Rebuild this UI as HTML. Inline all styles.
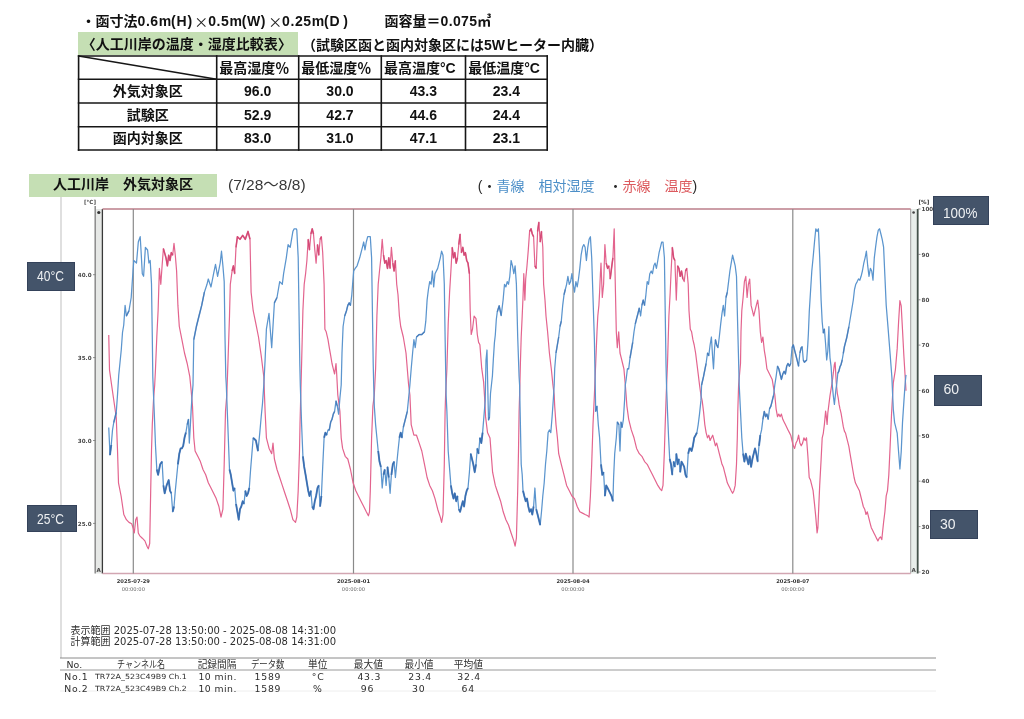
<!DOCTYPE html>
<html lang="ja"><head><meta charset="utf-8">
<title>人工川岸 温度・湿度比較</title>
<style>
html,body{margin:0;padding:0;background:#fff;}
body{width:1024px;height:719px;position:relative;overflow:hidden;font-family:"Liberation Sans","Noto Sans CJK JP",sans-serif;color:#111;}
.a{position:absolute;white-space:nowrap;line-height:1;}
.bd{font-weight:bold;}
.f14{font-size:14px;}
.green{position:absolute;background:#c5dfb4;}
.chart{position:absolute;left:0;top:0;}
.tk{font-family:"DejaVu Sans",sans-serif;font-size:5.6px;font-weight:bold;fill:#4a4a4a;}
.dt{font-family:"DejaVu Sans",sans-serif;font-size:5.2px;fill:#666;}
.b{font-weight:bold;fill:#333;}
.box{position:absolute;background:#44546a;color:#eef0f2;font-size:14px;line-height:1;box-shadow:inset 0 0 0 1px #34425a;}
.box span{position:absolute;white-space:nowrap;transform-origin:0 0;}
.xm{font-family:'Noto Sans CJK JP',sans-serif;font-weight:400;font-size:14px;color:#222;}
.sm{font-family:"DejaVu Sans","Noto Sans CJK JP",sans-serif;color:#2e2e2e;}
</style></head><body>
<div class="green" style="left:78.2px;top:32.1px;width:219.8px;height:22.5px;"></div>
<div class="green" style="left:28.6px;top:174px;width:188px;height:22.8px;"></div>
<svg class="chart" width="1024" height="719">
<line x1="78.6" y1="55.2" x2="78.6" y2="150.8" stroke="#161616" stroke-width="1.6"/>
<line x1="216.7" y1="55.2" x2="216.7" y2="150.8" stroke="#161616" stroke-width="1.6"/>
<line x1="298.7" y1="55.2" x2="298.7" y2="150.8" stroke="#161616" stroke-width="1.6"/>
<line x1="381.3" y1="55.2" x2="381.3" y2="150.8" stroke="#161616" stroke-width="1.6"/>
<line x1="465.5" y1="55.2" x2="465.5" y2="150.8" stroke="#161616" stroke-width="1.6"/>
<line x1="547.2" y1="55.2" x2="547.2" y2="150.8" stroke="#161616" stroke-width="1.6"/>
<line x1="77.8" y1="56.0" x2="548.0" y2="56.0" stroke="#161616" stroke-width="1.6"/>
<line x1="77.8" y1="79.2" x2="548.0" y2="79.2" stroke="#161616" stroke-width="1.6"/>
<line x1="77.8" y1="103.0" x2="548.0" y2="103.0" stroke="#161616" stroke-width="1.6"/>
<line x1="77.8" y1="126.8" x2="548.0" y2="126.8" stroke="#161616" stroke-width="1.6"/>
<line x1="77.8" y1="150.0" x2="548.0" y2="150.0" stroke="#161616" stroke-width="1.6"/>
<line x1="78.6" y1="56.0" x2="216.7" y2="79.2" stroke="#161616" stroke-width="1.4"/>
</svg>
<svg class="chart" width="1024" height="719">
<line x1="61" y1="197" x2="61" y2="658" stroke="#d2d2d2" stroke-width="1.4"/>
<rect x="95.5" y="209.0" width="7" height="364.5" fill="#e6e8e6"/>
<line x1="95.2" y1="206.0" x2="95.2" y2="573.5" stroke="#8a8a8a" stroke-width="1.5"/>
<line x1="102.4" y1="209.0" x2="102.4" y2="573.5" stroke="#3a3a3a" stroke-width="1.3"/>
<circle cx="98.8" cy="212.5" r="1.6" fill="#333"/>
<text x="96.5" y="571.5" class="tk">A</text>
<rect x="910.7" y="209.0" width="7.3" height="364.5" fill="#e8eeea"/>
<line x1="917.7" y1="209.0" x2="917.7" y2="573.5" stroke="#44524a" stroke-width="1.8"/>
<circle cx="913.6" cy="212.5" r="1.3" fill="#444"/>
<text x="911.5" y="571.5" class="tk">A</text>
<line x1="910.7" y1="209.0" x2="910.7" y2="573.5" stroke="#a0a0a0" stroke-width="1"/>
<line x1="102.5" y1="209.0" x2="910.7" y2="209.0" stroke="#bb7e8a" stroke-width="1.7"/>
<line x1="102.5" y1="573.5" x2="910.7" y2="573.5" stroke="#d2a6b2" stroke-width="1.4"/>
<line x1="133.3" y1="209.0" x2="133.3" y2="573.5" stroke="#8a8a8a" stroke-width="1.2"/>
<line x1="353.5" y1="209.0" x2="353.5" y2="573.5" stroke="#8a8a8a" stroke-width="1.2"/>
<line x1="573.0" y1="209.0" x2="573.0" y2="573.5" stroke="#8a8a8a" stroke-width="1.2"/>
<line x1="792.8" y1="209.0" x2="792.8" y2="573.5" stroke="#8a8a8a" stroke-width="1.2"/>
<line x1="93" y1="274.7" x2="95.5" y2="274.7" stroke="#777" stroke-width="0.8"/>
<text x="91.6" y="276.8" class="tk" text-anchor="end">40.0</text>
<line x1="93" y1="357.6" x2="95.5" y2="357.6" stroke="#777" stroke-width="0.8"/>
<text x="91.6" y="359.7" class="tk" text-anchor="end">35.0</text>
<line x1="93" y1="440.5" x2="95.5" y2="440.5" stroke="#777" stroke-width="0.8"/>
<text x="91.6" y="442.6" class="tk" text-anchor="end">30.0</text>
<line x1="93" y1="523.4" x2="95.5" y2="523.4" stroke="#777" stroke-width="0.8"/>
<text x="91.6" y="525.5" class="tk" text-anchor="end">25.0</text>
<text x="84" y="203.5" class="tk">[°C]</text>
<line x1="918" y1="209.0" x2="920.5" y2="209.0" stroke="#777" stroke-width="0.8"/>
<text x="921.5" y="211.2" class="tk">100</text>
<line x1="918" y1="254.4" x2="920.5" y2="254.4" stroke="#777" stroke-width="0.8"/>
<text x="921.5" y="256.6" class="tk">90</text>
<line x1="918" y1="299.8" x2="920.5" y2="299.8" stroke="#777" stroke-width="0.8"/>
<text x="921.5" y="301.9" class="tk">80</text>
<line x1="918" y1="345.1" x2="920.5" y2="345.1" stroke="#777" stroke-width="0.8"/>
<text x="921.5" y="347.3" class="tk">70</text>
<line x1="918" y1="390.5" x2="920.5" y2="390.5" stroke="#777" stroke-width="0.8"/>
<text x="921.5" y="392.7" class="tk">60</text>
<line x1="918" y1="435.9" x2="920.5" y2="435.9" stroke="#777" stroke-width="0.8"/>
<text x="921.5" y="438.1" class="tk">50</text>
<line x1="918" y1="481.2" x2="920.5" y2="481.2" stroke="#777" stroke-width="0.8"/>
<text x="921.5" y="483.4" class="tk">40</text>
<line x1="918" y1="526.6" x2="920.5" y2="526.6" stroke="#777" stroke-width="0.8"/>
<text x="921.5" y="528.8" class="tk">30</text>
<line x1="918" y1="572.0" x2="920.5" y2="572.0" stroke="#777" stroke-width="0.8"/>
<text x="921.5" y="574.2" class="tk">20</text>
<text x="918.5" y="204" class="tk b">[%]</text>
<text x="133.3" y="582.6" class="dt b" text-anchor="middle">2025-07-29</text>
<text x="133.3" y="590.6" class="dt" text-anchor="middle">00:00:00</text>
<text x="353.5" y="582.6" class="dt b" text-anchor="middle">2025-08-01</text>
<text x="353.5" y="590.6" class="dt" text-anchor="middle">00:00:00</text>
<text x="573.0" y="582.6" class="dt b" text-anchor="middle">2025-08-04</text>
<text x="573.0" y="590.6" class="dt" text-anchor="middle">00:00:00</text>
<text x="792.8" y="582.6" class="dt b" text-anchor="middle">2025-08-07</text>
<text x="792.8" y="590.6" class="dt" text-anchor="middle">00:00:00</text>
<polyline points="108.75,335 109.5,370 111.25,382.5 113.75,400 116.25,417.5 117.5,450 118.5,482.8 121.1,496 123.8,514.5 126.4,519.7 129,522.4 131.7,523.7 133,527.7 134.3,533 135.7,519.7 137,517.1 138.3,533 139.6,535.6 142.3,538.2 144.9,540.9 147,546.2 148.3,548.8 149.7,543.5 150.7,490.7 151.5,451 152.3,424.6 153.6,398.2 154.7,385 155.5,368.8 156.8,337 158.1,310.7 159.4,268.4 160.8,284.3 162.1,265.8 163.4,248.6 166,257.8 167.4,265.8 168.7,255.2 170,260.5 171.3,252.6 172.7,255.2 174,243.3 175.3,255.2 176.6,271 177.9,305.4 179.3,326.5 181.9,339.7 184.5,353 187.2,363.5 189.8,376.7 191.1,390 192.5,406 193.8,437.8 195.1,451 197.8,456.3 200.4,461.6 203,469.5 205.7,474.8 208.3,482.8 211,488 213.6,493.3 216.2,498.6 218.9,506.5 221,517.1 222.9,509.2 224.2,464.3 225.5,411.4 226.8,395 228.1,358.2 229.5,316 230.3,284.3 232.1,271 233.4,265.8 234.7,273.7 236,247.3 237.4,236.7 240,239.3 242.7,235.4 245.3,239.3 248,231.4 250,239.3 251.1,292.2 253.2,310.7 255.9,323.9 258.5,337 261.2,355.6 263.8,376.7 265.1,411.4 266.4,437.8 269.1,448.4 271.7,453.7 273,443.1 274.4,459 277,469.5 279.7,477.5 282.3,485.4 284.9,493.3 287.6,501.2 290.2,509.2 292.9,519.7 295.5,522.4 296.8,517.1 298.2,490.7 299.5,451 300,424.6 301.6,363.5 302.9,310.7 304.2,284.3 305.6,273.7 306.9,260.5 308.2,239.3 309.5,249.9 310.9,234 312.2,228.8 313.5,234 314.8,249.9 316.1,263.1 317.5,244.6 318.8,255.2 320.1,239.3 321.4,236.7 322.7,252.6 324.1,284.3 324.9,329.2 326.2,331.8 328,339.7 329.3,347.7 330.7,355.6 332,363.5 333.3,368.8 334.6,374 336,363.5 336.7,374 337.8,395 339.9,411.4 341.2,437.8 342.6,448.4 345.2,456.3 347.8,459 349.2,464.3 350.5,469.5 353.1,482.8 355.8,490.7 358.4,496 361,501.2 363.7,506.5 366.3,511.8 368.4,515.8 369.5,511.8 370.3,490.7 371.6,437.8 372.9,406.1 374.3,395 375.6,368.8 376.9,316 378.2,284.3 379.5,271 380.9,257.8 382.2,239.3 383.5,255.2 384.8,263.1 386.1,260.5 387.5,268.4 388.8,257.8 390.1,268.4 391.4,247.3 392.8,263.1 394.1,271 395.4,260.5 396.7,284.3 398,294.8 399.4,316 400.7,326.5 403.3,337 406,353 408.6,384.7 409.9,395 411.2,424.6 413.9,435.2 416.5,435.2 419.2,443.1 421.8,451 424.5,464.3 427.1,477.5 429.7,485.4 432.4,490.7 435,498.6 437.7,509.2 440.3,517.1 441.6,522.4 443,514.5 444.3,464.3 445.1,411.4 445.6,395 446.9,368.8 448.2,323.9 449.6,292.2 450.9,271 452.2,247.3 453.5,257.8 454.8,252.6 456.2,263.1 457.5,257.8 458.8,244.6 460.1,234 461.4,252.6 462.8,247.3 464.1,255.2 465.4,252.6 466.7,260.5 468,263.1 469.4,273.7 470.2,310.7 471.2,334.5 472.5,329.2 474.1,316 476,318.6 477.3,334.5 478.6,342.4 479.9,344.8 481.7,368.2 483.6,381.8 484.6,397.4 485.6,416.9 487.5,432.5 490,438 492.6,472.2 495.3,485.4 497.9,493.3 500.6,501.2 503.2,511.8 505.9,519.7 508.5,525 511.1,533 513.8,540.9 515.1,546.2 516.4,538.2 517.7,490.7 518.5,451 519.1,411.4 519.6,395 520.4,363.5 521.2,337 522.2,316 523,297.5 523.8,273.7 524.9,300.1 525.7,279 527,265.8 528.3,249.9 529.6,231.4 531,228.8 532.3,234 533.6,236.7 534.9,265.8 536.2,268.4 537.6,231.4 538.9,222.2 540.2,242 541.5,231.4 542.8,247.3 543.6,284.3 545,300.1 546,316 547.6,331.8 549.4,353 551.3,368.8 552.9,384.7 554.2,395 554.7,406.1 556,424.6 557.4,437.8 558.7,453.7 561.3,464.3 564,474.8 566.6,485.4 569.3,490.7 571.9,496 574.5,498.6 577.2,506.5 579.8,511.8 582.5,513.1 585.1,514.5 587.8,515.8 589.1,517.1 590.4,496 591.7,464.3 593,424.6 594.4,395 595.7,363.5 597,331.8 597.8,316 598.9,305.4 599.6,292.2 600.4,273.7 601,263.1 602.3,297.5 603.6,284.3 604.9,244.6 606.2,263.1 607.6,268.4 608.9,265.8 610.2,279 611.5,268.4 612.9,257.8 614.2,228.8 615,271 616.3,331.8 617.3,347.7 618.7,331.8 620,353 621.3,358.2 622.6,363.5 623.9,368.8 625.3,384.7 626.1,395 626.9,406.1 628.7,419.3 631.3,429.9 634,437.8 636.6,448.4 639.3,453.7 641.9,456.3 644.6,461.6 647.2,464.3 649.8,469.5 652.5,474.8 655.1,480.1 657.8,485.4 660.4,489.4 661.7,490.7 663,485.4 664.4,451 665.2,424.6 666.2,395 667.5,363.5 668.9,316 670.2,292.2 671,273.7 672.3,247.3 673.6,257.8 674.9,260.5 676.3,300.1 677.6,265.8 678.9,268.4 680.2,276.3 681.5,271 682.9,279 684.2,281.6 685.5,271 686.8,268.4 688.2,284.3 689,310.7 690.3,329.2 691.6,331.8 692.9,339.7 694.2,345 695.6,353 696.9,363.5 698.2,374 699.5,384.7 700.9,395 702.2,400.9 703.5,411.4 704.8,424.6 706.1,432.6 707.5,437.8 708.8,435.2 710.1,440.5 711.4,437.8 712.7,435.2 714.1,440.5 715.4,445.8 716.7,443.1 718,448.4 719.3,453.7 720.7,459 722,464.3 723.3,466.9 724.6,472.2 726,477.5 727.3,482.8 728.6,485.4 729.9,488 731.2,490.7 732.6,493.3 733.9,490.7 735.2,485.4 736.5,464.3 737.3,437.8 737.8,411.4 738.6,385 740.5,363.5 741,331.8 741.8,310.7 743.1,297.5 744.4,281.6 745.8,276.3 747.1,297.5 748.4,284.3 749.7,279 751.1,305.4 752.4,310.7 753.7,316 755,310.7 756.3,305.4 757.7,300.1 759,310.7 760.3,331.8 761.6,342.4 762.9,337 764.3,350.3 765.6,358.2 766.9,368.8 769.5,374 772.2,379.4 773.5,387.3 774.8,395 776.1,408.8 777.5,416.7 778.8,414.1 780.1,416.7 781.4,414.1 782.8,419.3 784.1,422 785.4,424.6 786.7,427.3 788,429.9 789.4,432.6 790.7,435.2 792,440.5 793.3,445.8 794.6,448.4 796,443.1 797.3,440.5 798.6,435.2 799.9,443.1 801.2,445.8 802.6,443.1 803.9,437.8 805.2,440.5 806.5,437.8 807.9,456.3 809.2,477.5 810.5,480.1 811.8,485.4 813.1,490.7 814.5,503.9 815.8,517.1 817.1,533 817.9,527.7 818.9,503.9 819.7,485.4 821.1,459.8 822.2,437.8 823.3,433.3 824.4,424.4 825.6,411.1 826.2,415.6 827.1,424.4 827.8,413.3 828.9,404.4 830,395.6 831.1,388.9 832.2,382.2 833.3,373.3 834.4,364.4 835.1,362.2 835.6,371.1 836.2,382.2 837.3,393.3 838.2,397.8 839.1,404.4 840,408.9 841.1,413.3 842.2,420 843.3,426.7 844.4,431.1 845.6,433.3 846.7,437.8 847.8,442.2 848.9,446.7 850,453.3 851.1,459.8 852.8,470 854.1,477.5 855.4,482.8 856.7,485.4 858,488 859.4,490.7 860.7,496 862,501.2 863.3,506.5 864.7,509.2 866,514.5 867.3,511.8 868.6,517.1 869.9,522.4 871.3,527.7 872.6,530.3 873.9,533 875.2,535.6 876.5,538.2 877.9,540.9 879.2,538.2 880.5,536.9 881.8,539.6 882.2,535.5 883.6,522.3 884.9,511.7 886.2,495.9 887.5,490.6 888.8,475 890.2,445 891.5,415 893.3,382.8 895.4,369.6 897.2,348.4 898.6,321.8 899.9,300.6 901.2,305.9 902.5,329.8 903.9,356.3 905.2,377.5 906,390.8" fill="none" stroke="#e3648e" stroke-width="1.2" stroke-linejoin="round"/>
<polyline points="163.4,248.6 166,257.8 167.4,265.8 168.7,255.2 170,260.5 171.3,252.6 172.7,255.2" fill="none" stroke="#cf3f6c" stroke-width="1.6" stroke-linejoin="round" stroke-opacity="0.75"/>
<polyline points="232.1,271 233.4,265.8 234.7,273.7" fill="none" stroke="#cf3f6c" stroke-width="1.6" stroke-linejoin="round" stroke-opacity="0.75"/>
<polyline points="236,247.3 237.4,236.7 240,239.3 242.7,235.4 245.3,239.3 248,231.4 250,239.3" fill="none" stroke="#cf3f6c" stroke-width="1.6" stroke-linejoin="round" stroke-opacity="0.75"/>
<polyline points="308.2,239.3 309.5,249.9" fill="none" stroke="#cf3f6c" stroke-width="1.6" stroke-linejoin="round" stroke-opacity="0.75"/>
<polyline points="310.9,234 312.2,228.8 313.5,234" fill="none" stroke="#cf3f6c" stroke-width="1.6" stroke-linejoin="round" stroke-opacity="0.75"/>
<polyline points="317.5,244.6 318.8,255.2" fill="none" stroke="#cf3f6c" stroke-width="1.6" stroke-linejoin="round" stroke-opacity="0.75"/>
<polyline points="320.1,239.3 321.4,236.7" fill="none" stroke="#cf3f6c" stroke-width="1.6" stroke-linejoin="round" stroke-opacity="0.75"/>
<polyline points="383.5,255.2 384.8,263.1 386.1,260.5 387.5,268.4 388.8,257.8 390.1,268.4" fill="none" stroke="#cf3f6c" stroke-width="1.6" stroke-linejoin="round" stroke-opacity="0.75"/>
<polyline points="392.8,263.1 394.1,271 395.4,260.5" fill="none" stroke="#cf3f6c" stroke-width="1.6" stroke-linejoin="round" stroke-opacity="0.75"/>
<polyline points="452.2,247.3 453.5,257.8 454.8,252.6 456.2,263.1 457.5,257.8" fill="none" stroke="#cf3f6c" stroke-width="1.6" stroke-linejoin="round" stroke-opacity="0.75"/>
<polyline points="458.8,244.6 460.1,234" fill="none" stroke="#cf3f6c" stroke-width="1.6" stroke-linejoin="round" stroke-opacity="0.75"/>
<polyline points="461.4,252.6 462.8,247.3 464.1,255.2 465.4,252.6 466.7,260.5 468,263.1 469.4,273.7" fill="none" stroke="#cf3f6c" stroke-width="1.6" stroke-linejoin="round" stroke-opacity="0.75"/>
<polyline points="529.6,231.4 531,228.8 532.3,234 533.6,236.7" fill="none" stroke="#cf3f6c" stroke-width="1.6" stroke-linejoin="round" stroke-opacity="0.75"/>
<polyline points="534.9,265.8 536.2,268.4" fill="none" stroke="#cf3f6c" stroke-width="1.6" stroke-linejoin="round" stroke-opacity="0.75"/>
<polyline points="537.6,231.4 538.9,222.2" fill="none" stroke="#cf3f6c" stroke-width="1.6" stroke-linejoin="round" stroke-opacity="0.75"/>
<polyline points="540.2,242 541.5,231.4" fill="none" stroke="#cf3f6c" stroke-width="1.6" stroke-linejoin="round" stroke-opacity="0.75"/>
<polyline points="606.2,263.1 607.6,268.4 608.9,265.8" fill="none" stroke="#cf3f6c" stroke-width="1.6" stroke-linejoin="round" stroke-opacity="0.75"/>
<polyline points="610.2,279 611.5,268.4 612.9,257.8" fill="none" stroke="#cf3f6c" stroke-width="1.6" stroke-linejoin="round" stroke-opacity="0.75"/>
<polyline points="672.3,247.3 673.6,257.8 674.9,260.5" fill="none" stroke="#cf3f6c" stroke-width="1.6" stroke-linejoin="round" stroke-opacity="0.75"/>
<polyline points="677.6,265.8 678.9,268.4 680.2,276.3 681.5,271 682.9,279" fill="none" stroke="#cf3f6c" stroke-width="1.6" stroke-linejoin="round" stroke-opacity="0.75"/>
<polyline points="685.5,271 686.8,268.4" fill="none" stroke="#cf3f6c" stroke-width="1.6" stroke-linejoin="round" stroke-opacity="0.75"/>
<polyline points="108.75,427.5 110,455 111.25,445 112.5,430 113.75,422.5 116.25,412.5 117.5,395 118.75,375 120,362.5 121.25,350 122.5,332.5 123.75,325 125.1,305.4 126.4,316 129,310.7 131.2,297.5 133,271 133.8,260.5 136.5,263 138.3,242 140.2,236.7 141,250 142.3,273.7 143.6,276.3 145.4,247.3 147.6,250 148.9,263 150.2,260.5 151.5,284 152.3,337 152.8,376.7 154.2,411.4 155.5,445.8 156.8,469.5 158.1,474.8 160.2,464.3 162.1,461.6 163.4,485.4 164.7,493.3 166.6,485.4 168.7,480.1 170,490.7 171.3,493.3 172.7,511.8 174,506.5 175.3,490.7 176.6,477.5 177.9,464.3 179.3,453.7 180.6,448.4 181.9,448.4 183.2,445.8 184.5,437.8 185.9,432.6 187.2,424.6 188.5,419.3 189.3,443.1 190.4,424.6 191.1,411.4 191.9,398.2 193,385 193.8,339.7 196.4,326.5 199,316 201.7,305.4 204.4,292.2 207,284.3 208.3,279 211,287 213.6,273.7 215.5,264.4 217.6,276.3 220.2,263 221.5,251.2 222.9,265.8 224.2,281.6 225,337 225.8,376.7 226.3,385 227.3,411.4 229.5,469.5 230.8,474.8 232.1,482.8 233.4,490.7 234.7,488 236,503.9 237.4,511.8 238.7,519.7 240,509.2 241.3,506.5 242.7,501.2 244,503.9 245.3,490.7 246.6,496 248,493.3 249.3,488 250.6,469.5 251.9,453.7 253.2,437.8 255.9,440.5 258,451 259.8,432.6 261.2,416.7 262.5,403.5 263.8,385 265.1,360 266.4,329.2 269,313.3 271.7,347.7 274.4,302.8 277,297.5 279.7,281.6 282.3,284.3 283.6,273.7 286.3,257.8 288.1,244.6 290.2,247.3 292.9,231.4 294.2,228.8 296.3,228.8 296.8,230 298.2,257.8 299,310.7 299.8,363.5 300.3,385 301.6,424.6 302.9,456.3 304.2,466.9 305.6,474.8 306.9,482.8 308.2,490.7 309.5,496 310.9,490.7 312.2,506.5 313.5,509.2 314.8,501.2 316.1,496 317.5,488 318.8,485.4 320.1,506.5 321.4,496 322.7,466.9 324.1,437.8 325.4,432.6 326.7,435.2 328,429.9 329.3,429.9 330.7,422 332,419.3 333.3,414.1 334.6,411.4 336,400.9 337.3,406.1 338.6,414.1 339.9,398.2 341.2,385 342,353 343.1,326.5 344.7,316 346.5,310.7 347.8,305.4 349.2,302.8 350.5,305.4 351.8,294.8 352.6,284.3 353.7,271 355.2,268.4 357.1,265.8 359.7,257.8 362.4,247.3 363.7,242 365,249.9 366.3,242 367.7,236.7 370.3,236.7 371.6,257.8 372.4,310.7 373.2,363.5 373.7,385 374.3,406.1 375.6,424.6 376.9,437.8 378.2,451 379.5,461.6 380.9,466.9 382.2,488 383.5,474.8 384.8,469.5 386.1,485.4 387.5,466.9 388.8,477.5 390.1,493.3 391.4,474.8 392.8,464.3 394.1,461.6 395.4,477.5 396.7,464.3 398,451 399.4,437.8 400.7,432.6 402,437.8 403.3,427.3 406,416.7 407.3,411.4 408.6,398.2 409.9,384.7 411.2,368.8 412.6,353 413.9,339.7 415.2,347.7 416.5,337 419.2,334.5 421.8,334.5 424.5,331.8 425.8,321.2 427.1,300.1 428.4,289.5 429.7,281.6 431.1,284.3 432.4,271 433.7,286.9 435,273.7 437.7,268.4 439,263.1 440.3,257.8 441.6,251.2 443,255.2 444.3,284.3 445.1,337 446.1,395 446.9,411.4 448.2,451 450.9,485.4 452.2,493.3 453.5,498.6 454.8,493.3 456.2,501.2 457.5,496 458.8,509.2 460.1,511.8 461.4,506.5 462.8,501.2 464.1,506.5 465.4,496 466.7,490.7 468,488 469.4,472.2 470.7,453.7 472,459 473.3,464.3 474.7,472.2 476,464.3 477.3,448.4 478.6,453.7 479.9,437.8 481.3,443.1 482.6,432.6 483.9,416.7 485.2,400.9 486,360 487,350 487.5,375 488.5,420 489.5,417 490.5,393.5 492.4,376 493.4,358.4 494.4,342.9 495.3,335 496.3,319.5 497.3,311.7 499.2,305.8 501.2,315.6 503.1,300 504.5,284.3 505.9,286.9 507.2,281.6 508.5,284.3 509.8,276.3 511.1,260.5 512.5,265.8 513.8,273.7 515.1,265.8 516.4,284.3 517.7,337 519.1,376.7 519.6,385 520.4,424.6 521.2,464.3 522.2,474.8 523,490.7 524.3,496 525.7,501.2 527,498.6 528.3,506.5 529.6,511.8 531,509.2 532.3,514.5 533.6,506.5 534.9,488 536.2,509.2 537.6,514.5 538.9,519.7 540.2,525 541.5,511.8 542.8,496 544.2,482.8 545.5,464.3 546.8,451 548.1,432.6 549.4,429.9 550.8,432.6 552.1,416.7 553.4,398.2 554.2,385 554.7,368.8 556,353 558.7,337 560,326.5 561.3,321.2 562.7,305.4 564,294.8 565.3,289.5 566.6,284.3 567.9,276.3 569.3,284.3 570.6,281.6 571.9,273.7 573.2,284.3 574.5,292.2 575.9,281.6 577.2,286.9 578.5,279 579.8,268.4 581.1,255.2 582.5,247.3 583.8,244.6 585.1,247.3 586.4,260.5 587.8,247.3 589.1,239.3 590.4,236.7 591.7,257.8 593,297.5 594.4,340 595.2,385 595.7,411.4 597,406.1 598.3,424.6 599.6,437.8 601,464.3 602.3,474.8 603.6,472.2 604.9,496 606.2,485.4 607.6,488 608.9,490.7 610.2,493.3 611.5,496 612.9,501.2 613.6,477.5 614.7,453.7 616.3,437.8 617.3,422 618.9,424.6 620,451 621,422 622.1,427.3 623.4,419.3 624.7,398.2 625.3,385 626.1,380 627.4,368.8 628.7,368.8 630,358.2 632.7,342.4 634,331.8 635.3,323.9 636.6,318.6 638,313.3 639.3,308 640.6,316 641.9,305.4 643.2,300.1 644.6,305.4 645.9,294.8 647.2,281.6 648.5,284.3 649.8,273.7 651.2,271 652.5,273.7 653.8,265.8 655.1,263.1 656.4,268.4 657.8,260.5 659.1,252.6 660.4,247.3 661.7,242 663,242 664.4,257.8 665.2,310.7 666,363.5 666.5,385 667.5,411.4 668.6,437.8 669.7,459 671,464.3 672.3,474.8 673.6,461.6 674.9,466.9 676.3,453.7 677.6,464.3 678.9,459 680.2,472.2 681.5,461.6 682.9,464.3 684.2,466.9 685.5,474.8 686.8,477.5 688.2,453.7 689.5,448.4 690.3,448.4 691.6,451 692.9,445.8 694.2,437.8 695.6,435.2 696.9,432.6 698.2,424.6 699.5,414.1 700.9,400.9 701.6,385 703.5,376.7 706.1,363.5 707.5,353 708.8,355.6 710.1,345 711.4,337 712.7,358.2 713.5,368.8 714.6,347.7 715.4,339.7 716.7,345 718,347.7 719.3,337 720.7,323.9 722,313.3 723.3,305.4 724.6,316 726,297.5 727.3,292.2 728.6,281.6 729.9,271 731.2,263.1 732.6,255.2 733.9,260.5 735.2,265.8 736.5,276.3 737.3,310.7 738.4,353 739.2,385 740.5,411.4 741.8,437.8 743.1,453.7 744.4,461.6 745.8,453.7 747.1,459 748.4,464.3 749.7,456.3 751.1,466.9 752.4,459 753.7,453.7 755,448.4 756.3,453.7 757.7,461.6 759,445.8 760.3,435.2 761.6,429.9 762.9,419.3 764.3,411.4 765.6,416.7 766.9,414.1 768.2,419.3 769.5,408.8 770.9,406.1 772.2,400.9 773.5,395.6 774.8,385 776.1,376.7 777.5,366.2 778.8,368.8 780.1,374 781.4,379.4 782.8,374 784.1,371.4 785.4,374 786.7,366.2 788,363.5 789.4,366.2 790.7,363.5 792,347.7 793.3,345 794.6,350.3 796,355.6 797.3,360.9 798.6,366.2 799.9,353 801.2,347.7 802.2,346.7 803.3,360 804.4,362.2 806.7,360 807.8,344.4 808.4,333.3 809.3,311 810,300 811.8,271 813.1,257.8 814.5,242 815.8,228.8 817.1,231.4 818.4,228.8 819.7,257.8 821.1,300 822.2,322 823.3,333 824.4,329 825.6,344 826.7,360 827.8,351 828.9,326.7 829.3,344 830,357.8 831.1,366.7 832.2,384.4 833.3,395.6 834.4,404.4 835.1,397.8 836,388.9 836.7,384.4 837.8,373.3 838.9,371.1 840,366.7 841.1,364.4 842.2,360 843.3,353.3 844.4,346.7 846.7,337.8 848.9,326.7 850,320 851.1,313.3 853.3,300 854.5,289.5 855.8,284.2 857.2,281.6 858.5,278.9 859.8,280.2 861.1,276.3 862.4,271 863.8,263.1 865.1,257.8 866.4,251.2 867.7,265.7 869,276.3 870.4,268.4 871.7,271 873,280.2 874.3,257.8 875.6,247.2 877,236.7 878.3,230.1 879.6,228.8 880.9,234 882.2,239.3 883.6,247.2 884.9,276.3 886.2,305.3 888,327.1 890.1,353.7 891.9,377.5 892.7,396.1 893.3,409.4 894.6,422.6 897.2,433.2 898.6,452 899.9,469 901.2,452 902.5,422.6 903.9,401.4 905.2,382.8 906,374.9" fill="none" stroke="#5b95ce" stroke-width="1.25" stroke-linejoin="round"/>
<polyline points="110,455 111.25,445" fill="none" stroke="#2f64aa" stroke-width="1.9" stroke-linejoin="round" stroke-opacity="0.8"/>
<polyline points="156.8,469.5 158.1,474.8 160.2,464.3 162.1,461.6" fill="none" stroke="#2f64aa" stroke-width="1.9" stroke-linejoin="round" stroke-opacity="0.8"/>
<polyline points="163.4,485.4 164.7,493.3 166.6,485.4 168.7,480.1 170,490.7 171.3,493.3" fill="none" stroke="#2f64aa" stroke-width="1.9" stroke-linejoin="round" stroke-opacity="0.8"/>
<polyline points="172.7,511.8 174,506.5" fill="none" stroke="#2f64aa" stroke-width="1.9" stroke-linejoin="round" stroke-opacity="0.8"/>
<polyline points="177.9,464.3 179.3,453.7 180.6,448.4 181.9,448.4 183.2,445.8 184.5,437.8 185.9,432.6" fill="none" stroke="#2f64aa" stroke-width="1.9" stroke-linejoin="round" stroke-opacity="0.8"/>
<polyline points="229.5,469.5 230.8,474.8 232.1,482.8 233.4,490.7 234.7,488" fill="none" stroke="#2f64aa" stroke-width="1.9" stroke-linejoin="round" stroke-opacity="0.8"/>
<polyline points="236,503.9 237.4,511.8 238.7,519.7 240,509.2 241.3,506.5 242.7,501.2 244,503.9" fill="none" stroke="#2f64aa" stroke-width="1.9" stroke-linejoin="round" stroke-opacity="0.8"/>
<polyline points="245.3,490.7 246.6,496 248,493.3 249.3,488" fill="none" stroke="#2f64aa" stroke-width="1.9" stroke-linejoin="round" stroke-opacity="0.8"/>
<polyline points="253.2,437.8 255.9,440.5 258,451" fill="none" stroke="#2f64aa" stroke-width="1.9" stroke-linejoin="round" stroke-opacity="0.8"/>
<polyline points="302.9,456.3 304.2,466.9 305.6,474.8 306.9,482.8 308.2,490.7 309.5,496 310.9,490.7" fill="none" stroke="#2f64aa" stroke-width="1.9" stroke-linejoin="round" stroke-opacity="0.8"/>
<polyline points="312.2,506.5 313.5,509.2 314.8,501.2 316.1,496 317.5,488 318.8,485.4" fill="none" stroke="#2f64aa" stroke-width="1.9" stroke-linejoin="round" stroke-opacity="0.8"/>
<polyline points="320.1,506.5 321.4,496" fill="none" stroke="#2f64aa" stroke-width="1.9" stroke-linejoin="round" stroke-opacity="0.8"/>
<polyline points="324.1,437.8 325.4,432.6 326.7,435.2" fill="none" stroke="#2f64aa" stroke-width="1.9" stroke-linejoin="round" stroke-opacity="0.8"/>
<polyline points="378.2,451 379.5,461.6 380.9,466.9" fill="none" stroke="#2f64aa" stroke-width="1.9" stroke-linejoin="round" stroke-opacity="0.8"/>
<polyline points="383.5,474.8 384.8,469.5" fill="none" stroke="#2f64aa" stroke-width="1.9" stroke-linejoin="round" stroke-opacity="0.8"/>
<polyline points="387.5,466.9 388.8,477.5" fill="none" stroke="#2f64aa" stroke-width="1.9" stroke-linejoin="round" stroke-opacity="0.8"/>
<polyline points="391.4,474.8 392.8,464.3 394.1,461.6" fill="none" stroke="#2f64aa" stroke-width="1.9" stroke-linejoin="round" stroke-opacity="0.8"/>
<polyline points="399.4,437.8 400.7,432.6 402,437.8" fill="none" stroke="#2f64aa" stroke-width="1.9" stroke-linejoin="round" stroke-opacity="0.8"/>
<polyline points="450.9,485.4 452.2,493.3 453.5,498.6 454.8,493.3 456.2,501.2 457.5,496" fill="none" stroke="#2f64aa" stroke-width="1.9" stroke-linejoin="round" stroke-opacity="0.8"/>
<polyline points="458.8,509.2 460.1,511.8 461.4,506.5 462.8,501.2 464.1,506.5 465.4,496 466.7,490.7 468,488" fill="none" stroke="#2f64aa" stroke-width="1.9" stroke-linejoin="round" stroke-opacity="0.8"/>
<polyline points="470.7,453.7 472,459 473.3,464.3 474.7,472.2 476,464.3" fill="none" stroke="#2f64aa" stroke-width="1.9" stroke-linejoin="round" stroke-opacity="0.8"/>
<polyline points="477.3,448.4 478.6,453.7" fill="none" stroke="#2f64aa" stroke-width="1.9" stroke-linejoin="round" stroke-opacity="0.8"/>
<polyline points="479.9,437.8 481.3,443.1 482.6,432.6" fill="none" stroke="#2f64aa" stroke-width="1.9" stroke-linejoin="round" stroke-opacity="0.8"/>
<polyline points="523,490.7 524.3,496 525.7,501.2 527,498.6 528.3,506.5 529.6,511.8 531,509.2 532.3,514.5 533.6,506.5" fill="none" stroke="#2f64aa" stroke-width="1.9" stroke-linejoin="round" stroke-opacity="0.8"/>
<polyline points="536.2,509.2 537.6,514.5 538.9,519.7 540.2,525" fill="none" stroke="#2f64aa" stroke-width="1.9" stroke-linejoin="round" stroke-opacity="0.8"/>
<polyline points="601,464.3 602.3,474.8 603.6,472.2" fill="none" stroke="#2f64aa" stroke-width="1.9" stroke-linejoin="round" stroke-opacity="0.8"/>
<polyline points="604.9,496 606.2,485.4 607.6,488 608.9,490.7 610.2,493.3 611.5,496 612.9,501.2" fill="none" stroke="#2f64aa" stroke-width="1.9" stroke-linejoin="round" stroke-opacity="0.8"/>
<polyline points="669.7,459 671,464.3 672.3,474.8" fill="none" stroke="#2f64aa" stroke-width="1.9" stroke-linejoin="round" stroke-opacity="0.8"/>
<polyline points="673.6,461.6 674.9,466.9" fill="none" stroke="#2f64aa" stroke-width="1.9" stroke-linejoin="round" stroke-opacity="0.8"/>
<polyline points="676.3,453.7 677.6,464.3 678.9,459" fill="none" stroke="#2f64aa" stroke-width="1.9" stroke-linejoin="round" stroke-opacity="0.8"/>
<polyline points="680.2,472.2 681.5,461.6 682.9,464.3 684.2,466.9 685.5,474.8 686.8,477.5" fill="none" stroke="#2f64aa" stroke-width="1.9" stroke-linejoin="round" stroke-opacity="0.8"/>
<polyline points="688.2,453.7 689.5,448.4 690.3,448.4 691.6,451 692.9,445.8 694.2,437.8 695.6,435.2 696.9,432.6" fill="none" stroke="#2f64aa" stroke-width="1.9" stroke-linejoin="round" stroke-opacity="0.8"/>
<polyline points="743.1,453.7 744.4,461.6 745.8,453.7 747.1,459 748.4,464.3 749.7,456.3 751.1,466.9 752.4,459 753.7,453.7 755,448.4 756.3,453.7 757.7,461.6" fill="none" stroke="#2f64aa" stroke-width="1.9" stroke-linejoin="round" stroke-opacity="0.8"/>
<polyline points="759,445.8 760.3,435.2" fill="none" stroke="#2f64aa" stroke-width="1.9" stroke-linejoin="round" stroke-opacity="0.8"/>
<polyline points="113.75,422.5 116.25,412.5" fill="none" stroke="#3a6eb0" stroke-width="1.5" stroke-linejoin="round" stroke-opacity="0.6"/>
<polyline points="126.4,316 129,310.7" fill="none" stroke="#3a6eb0" stroke-width="1.5" stroke-linejoin="round" stroke-opacity="0.6"/>
<polyline points="187.2,424.6 188.5,419.3" fill="none" stroke="#3a6eb0" stroke-width="1.5" stroke-linejoin="round" stroke-opacity="0.6"/>
<polyline points="193.8,339.7 196.4,326.5 199,316 201.7,305.4 204.4,292.2" fill="none" stroke="#3a6eb0" stroke-width="1.5" stroke-linejoin="round" stroke-opacity="0.6"/>
<polyline points="274.4,302.8 277,297.5" fill="none" stroke="#3a6eb0" stroke-width="1.5" stroke-linejoin="round" stroke-opacity="0.6"/>
<polyline points="328,429.9 329.3,429.9 330.7,422 332,419.3 333.3,414.1 334.6,411.4" fill="none" stroke="#3a6eb0" stroke-width="1.5" stroke-linejoin="round" stroke-opacity="0.6"/>
<polyline points="336,400.9 337.3,406.1" fill="none" stroke="#3a6eb0" stroke-width="1.5" stroke-linejoin="round" stroke-opacity="0.6"/>
<polyline points="344.7,316 346.5,310.7 347.8,305.4 349.2,302.8 350.5,305.4" fill="none" stroke="#3a6eb0" stroke-width="1.5" stroke-linejoin="round" stroke-opacity="0.6"/>
<polyline points="403.3,427.3 406,416.7 407.3,411.4" fill="none" stroke="#3a6eb0" stroke-width="1.5" stroke-linejoin="round" stroke-opacity="0.6"/>
<polyline points="416.5,337 419.2,334.5 421.8,334.5 424.5,331.8" fill="none" stroke="#3a6eb0" stroke-width="1.5" stroke-linejoin="round" stroke-opacity="0.6"/>
<polyline points="488.5,420 489.5,417" fill="none" stroke="#3a6eb0" stroke-width="1.5" stroke-linejoin="round" stroke-opacity="0.6"/>
<polyline points="497.3,311.7 499.2,305.8 501.2,315.6" fill="none" stroke="#3a6eb0" stroke-width="1.5" stroke-linejoin="round" stroke-opacity="0.6"/>
<polyline points="556,353 558.7,337" fill="none" stroke="#3a6eb0" stroke-width="1.5" stroke-linejoin="round" stroke-opacity="0.6"/>
<polyline points="560,326.5 561.3,321.2" fill="none" stroke="#3a6eb0" stroke-width="1.5" stroke-linejoin="round" stroke-opacity="0.6"/>
<polyline points="564,294.8 565.3,289.5" fill="none" stroke="#3a6eb0" stroke-width="1.5" stroke-linejoin="round" stroke-opacity="0.6"/>
<polyline points="595.7,411.4 597,406.1" fill="none" stroke="#3a6eb0" stroke-width="1.5" stroke-linejoin="round" stroke-opacity="0.6"/>
<polyline points="617.3,422 618.9,424.6" fill="none" stroke="#3a6eb0" stroke-width="1.5" stroke-linejoin="round" stroke-opacity="0.6"/>
<polyline points="621,422 622.1,427.3" fill="none" stroke="#3a6eb0" stroke-width="1.5" stroke-linejoin="round" stroke-opacity="0.6"/>
<polyline points="627.4,368.8 628.7,368.8" fill="none" stroke="#3a6eb0" stroke-width="1.5" stroke-linejoin="round" stroke-opacity="0.6"/>
<polyline points="630,358.2 632.7,342.4" fill="none" stroke="#3a6eb0" stroke-width="1.5" stroke-linejoin="round" stroke-opacity="0.6"/>
<polyline points="635.3,323.9 636.6,318.6 638,313.3 639.3,308" fill="none" stroke="#3a6eb0" stroke-width="1.5" stroke-linejoin="round" stroke-opacity="0.6"/>
<polyline points="641.9,305.4 643.2,300.1 644.6,305.4" fill="none" stroke="#3a6eb0" stroke-width="1.5" stroke-linejoin="round" stroke-opacity="0.6"/>
<polyline points="701.6,385 703.5,376.7 706.1,363.5" fill="none" stroke="#3a6eb0" stroke-width="1.5" stroke-linejoin="round" stroke-opacity="0.6"/>
<polyline points="707.5,353 708.8,355.6" fill="none" stroke="#3a6eb0" stroke-width="1.5" stroke-linejoin="round" stroke-opacity="0.6"/>
<polyline points="715.4,339.7 716.7,345 718,347.7" fill="none" stroke="#3a6eb0" stroke-width="1.5" stroke-linejoin="round" stroke-opacity="0.6"/>
<polyline points="726,297.5 727.3,292.2" fill="none" stroke="#3a6eb0" stroke-width="1.5" stroke-linejoin="round" stroke-opacity="0.6"/>
<polyline points="762.9,419.3 764.3,411.4 765.6,416.7 766.9,414.1 768.2,419.3" fill="none" stroke="#3a6eb0" stroke-width="1.5" stroke-linejoin="round" stroke-opacity="0.6"/>
<polyline points="769.5,408.8 770.9,406.1 772.2,400.9 773.5,395.6" fill="none" stroke="#3a6eb0" stroke-width="1.5" stroke-linejoin="round" stroke-opacity="0.6"/>
<polyline points="777.5,366.2 778.8,368.8 780.1,374 781.4,379.4 782.8,374 784.1,371.4 785.4,374 786.7,366.2 788,363.5 789.4,366.2 790.7,363.5" fill="none" stroke="#3a6eb0" stroke-width="1.5" stroke-linejoin="round" stroke-opacity="0.6"/>
<polyline points="792,347.7 793.3,345 794.6,350.3 796,355.6 797.3,360.9 798.6,366.2" fill="none" stroke="#3a6eb0" stroke-width="1.5" stroke-linejoin="round" stroke-opacity="0.6"/>
<polyline points="799.9,353 801.2,347.7 802.2,346.7" fill="none" stroke="#3a6eb0" stroke-width="1.5" stroke-linejoin="round" stroke-opacity="0.6"/>
<polyline points="803.3,360 804.4,362.2 806.7,360" fill="none" stroke="#3a6eb0" stroke-width="1.5" stroke-linejoin="round" stroke-opacity="0.6"/>
<polyline points="823.3,333 824.4,329" fill="none" stroke="#3a6eb0" stroke-width="1.5" stroke-linejoin="round" stroke-opacity="0.6"/>
<polyline points="837.8,373.3 838.9,371.1 840,366.7 841.1,364.4 842.2,360" fill="none" stroke="#3a6eb0" stroke-width="1.5" stroke-linejoin="round" stroke-opacity="0.6"/>
<polyline points="843.3,353.3 844.4,346.7 846.7,337.8 848.9,326.7" fill="none" stroke="#3a6eb0" stroke-width="1.5" stroke-linejoin="round" stroke-opacity="0.6"/>
<line x1="60" y1="658" x2="936" y2="658" stroke="#8a8a8a" stroke-width="1"/>
<line x1="60" y1="670" x2="936" y2="670" stroke="#9a9a9a" stroke-width="1"/>
<line x1="60" y1="691" x2="936" y2="691" stroke="#eeeeee" stroke-width="1"/>
</svg>
<div class="a bd f14" style="left:81.5px;top:14px;">・函寸法</div>
<div class="a bd f14" style="left:137.6px;top:14px;letter-spacing:0.55px;">0.6m</div>
<div class="a bd f14" style="left:171.0px;top:14px;letter-spacing:0.9px;">(H)</div>
<div class="a xm" style="left:194.3px;top:14.2px;">×</div>
<div class="a bd f14" style="left:208.2px;top:14px;letter-spacing:0.6px;">0.5m</div>
<div class="a bd f14" style="left:241.8px;top:14px;letter-spacing:0.6px;">(W)</div>
<div class="a xm" style="left:268.3px;top:14.2px;">×</div>
<div class="a bd f14" style="left:282.0px;top:14px;letter-spacing:0.6px;">0.25m</div>
<div class="a bd f14" style="left:324.0px;top:14px;">(</div>
<div class="a bd f14" style="left:329.5px;top:14px;">D</div>
<div class="a bd f14" style="left:343.2px;top:14px;">)</div>
<div class="a bd f14" style="left:384.5px;top:14px;">函容量＝<span style="letter-spacing:0.35px">0.075</span>㎥</div>
<div class="a bd f14" style="left:81.8px;top:37px;">〈人工川岸の温度・湿度比較表〉</div>
<div class="a bd f14" style="left:302px;top:38px;">（試験区函と函内対象区には5Wヒーター内臓）</div>
<div class="a bd f14" style="left:219.3px;top:60.8px;">最高湿度％</div>
<div class="a bd f14" style="left:301.3px;top:60.8px;">最低湿度％</div>
<div class="a bd f14" style="left:383.9px;top:60.8px;">最高温度°C</div>
<div class="a bd f14" style="left:468.2px;top:60.8px;">最低温度°C</div>
<div class="a bd f14" style="left:78.6px;width:138.1px;text-align:center;top:83.89999999999999px;">外気対象区</div>
<div class="a bd f14" style="left:216.7px;width:82.0px;text-align:center;top:83.89999999999999px;">96.0</div>
<div class="a bd f14" style="left:298.7px;width:82.60000000000002px;text-align:center;top:83.89999999999999px;">30.0</div>
<div class="a bd f14" style="left:381.3px;width:84.19999999999999px;text-align:center;top:83.89999999999999px;">43.3</div>
<div class="a bd f14" style="left:465.5px;width:81.70000000000005px;text-align:center;top:83.89999999999999px;">23.4</div>
<div class="a bd f14" style="left:78.6px;width:138.1px;text-align:center;top:107.7px;">試験区</div>
<div class="a bd f14" style="left:216.7px;width:82.0px;text-align:center;top:107.7px;">52.9</div>
<div class="a bd f14" style="left:298.7px;width:82.60000000000002px;text-align:center;top:107.7px;">42.7</div>
<div class="a bd f14" style="left:381.3px;width:84.19999999999999px;text-align:center;top:107.7px;">44.6</div>
<div class="a bd f14" style="left:465.5px;width:81.70000000000005px;text-align:center;top:107.7px;">24.4</div>
<div class="a bd f14" style="left:78.6px;width:138.1px;text-align:center;top:131.20000000000002px;">函内対象区</div>
<div class="a bd f14" style="left:216.7px;width:82.0px;text-align:center;top:131.20000000000002px;">83.0</div>
<div class="a bd f14" style="left:298.7px;width:82.60000000000002px;text-align:center;top:131.20000000000002px;">31.0</div>
<div class="a bd f14" style="left:381.3px;width:84.19999999999999px;text-align:center;top:131.20000000000002px;">47.1</div>
<div class="a bd f14" style="left:465.5px;width:81.70000000000005px;text-align:center;top:131.20000000000002px;">23.1</div>
<div class="a bd f14" style="left:53px;top:177.3px;">人工川岸　外気対象区</div>
<div class="a" style="left:228.0px;top:177.3px;font-size:15.5px;color:#383838;">(7/28～8/8)</div>
<div class="a f14" style="left:477.8px;top:178.6px;color:#2a2a2a;">(・<span style="color:#4d8fc8">青線　相対湿度</span>　・<span style="color:#dc5a5e">赤線　温度</span>)</div>
<div class="a sm" style="left:70.5px;top:626px;font-size:10px;">表示範囲 2025-07-28 13:50:00 - 2025-08-08 14:31:00</div>
<div class="a sm" style="left:70.5px;top:637px;font-size:10px;">計算範囲 2025-07-28 13:50:00 - 2025-08-08 14:31:00</div>
<div class="a sm" style="left:66.6px;top:660.3px;font-size:9.4px;">No.</div>
<div class="a sm" style="left:116.6px;top:660.4px;font-size:9.7px;transform:scaleX(0.83);transform-origin:0 0;">チャンネル名</div>
<div class="a sm" style="left:197.7px;top:660.4px;font-size:9.7px;">記録間隔</div>
<div class="a sm" style="left:250.7px;top:660.4px;font-size:9.7px;transform:scaleX(0.86);transform-origin:0 0;">データ数</div>
<div class="a sm" style="left:308.0px;top:660.4px;font-size:9.7px;">単位</div>
<div class="a sm" style="left:353.8px;top:660.4px;font-size:9.7px;">最大値</div>
<div class="a sm" style="left:404.5px;top:660.4px;font-size:9.7px;">最小値</div>
<div class="a sm" style="left:453.8px;top:660.4px;font-size:9.7px;">平均値</div>
<div class="a sm" style="left:64.2px;top:672.0px;font-size:9.3px;letter-spacing:0.75px;">No.1</div>
<div class="a sm" style="left:94.8px;top:673.2px;font-size:7.1px;transform:scaleX(1.12);transform-origin:0 0;">TR72A_523C49B9 Ch.1</div>
<div class="a sm" style="left:198.4px;top:672.0px;font-size:9.3px;letter-spacing:0.45px;">10 min.</div>
<div class="a sm" style="left:254.6px;top:672.0px;font-size:9.3px;letter-spacing:0.75px;">1589</div>
<div class="a sm" style="left:311.8px;top:672.0px;font-size:9.3px;letter-spacing:0.75px;">°C</div>
<div class="a sm" style="left:357.4px;top:672.0px;font-size:9.3px;letter-spacing:0.75px;">43.3</div>
<div class="a sm" style="left:408.3px;top:672.0px;font-size:9.3px;letter-spacing:0.75px;">23.4</div>
<div class="a sm" style="left:457.3px;top:672.0px;font-size:9.3px;letter-spacing:0.75px;">32.4</div>
<div class="a sm" style="left:64.2px;top:683.8px;font-size:9.3px;letter-spacing:0.75px;">No.2</div>
<div class="a sm" style="left:94.8px;top:685.0px;font-size:7.1px;transform:scaleX(1.12);transform-origin:0 0;">TR72A_523C49B9 Ch.2</div>
<div class="a sm" style="left:198.4px;top:683.8px;font-size:9.3px;letter-spacing:0.45px;">10 min.</div>
<div class="a sm" style="left:254.6px;top:683.8px;font-size:9.3px;letter-spacing:0.75px;">1589</div>
<div class="a sm" style="left:313.0px;top:683.8px;font-size:9.3px;letter-spacing:0.75px;">%</div>
<div class="a sm" style="left:360.8px;top:683.8px;font-size:9.3px;letter-spacing:0.75px;">96</div>
<div class="a sm" style="left:412.0px;top:683.8px;font-size:9.3px;letter-spacing:0.75px;">30</div>
<div class="a sm" style="left:461.6px;top:683.8px;font-size:9.3px;letter-spacing:0.75px;">64</div>
<div class="box" style="left:27.3px;top:262.3px;width:47.5px;height:28.5px;"><span style="left:9.3px;top:6.3px;transform:scaleX(0.86);">40°C</span></div>
<div class="box" style="left:27.3px;top:505.2px;width:49.5px;height:26.4px;"><span style="left:9.3px;top:6.5px;transform:scaleX(0.86);">25°C</span></div>
<div class="box" style="left:933.3px;top:196.4px;width:55.3px;height:28.9px;"><span style="left:9.7px;top:9.9px;transform:scaleX(0.96);">100%</span></div>
<div class="box" style="left:934.1px;top:374.6px;width:47.6px;height:31.1px;"><span style="left:9.4px;top:7.3px;transform:scaleX(1.0);">60</span></div>
<div class="box" style="left:930.0px;top:509.5px;width:47.8px;height:29.2px;"><span style="left:9.9px;top:7.6px;transform:scaleX(1.0);">30</span></div>
</body></html>
